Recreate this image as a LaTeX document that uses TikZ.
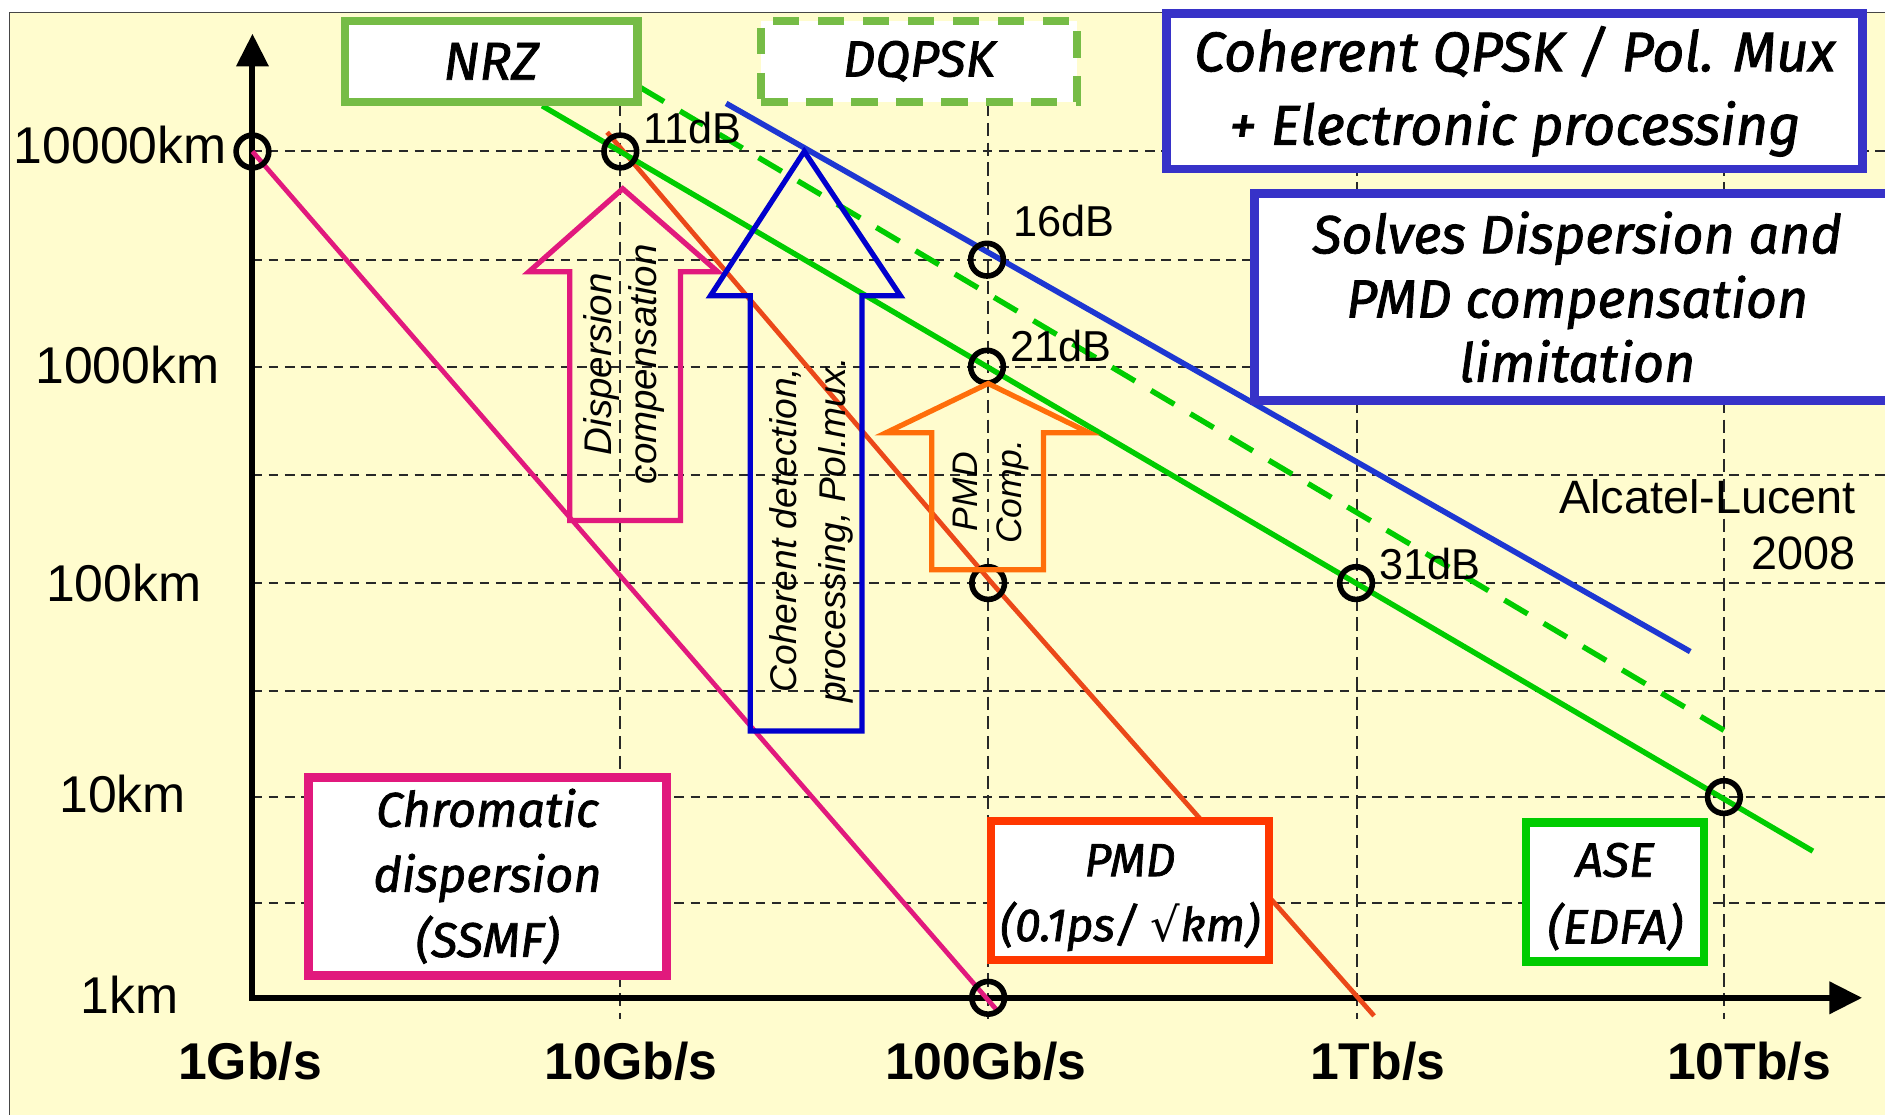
\documentclass[tikz,border=0pt]{standalone}
\usepackage{fontspec}
\setmainfont{Liberation Sans}
\newfontfamily\boxfont{Fira Sans}[FakeBold=1.5]
\newfontfamily\symfont{DejaVu Sans}
\usetikzlibrary{arrows.meta}

\definecolor{paper}{RGB}{255,252,206}
\definecolor{framec}{RGB}{70,70,70}
\definecolor{gridc}{RGB}{40,40,40}
\definecolor{cdmag}{RGB}{225,25,125}
\definecolor{pmdred}{RGB}{235,72,25}
\definecolor{pmdbox}{RGB}{255,55,0}
\definecolor{pmdorange}{RGB}{255,110,10}
\definecolor{asegreen}{RGB}{0,204,0}
\definecolor{modgreen}{RGB}{118,188,70}
\definecolor{cohblue}{RGB}{30,55,210}
\definecolor{arrowblue}{RGB}{0,0,205}
\definecolor{boxblue}{RGB}{55,50,200}

\begin{document}
\begin{tikzpicture}[x=0.025cm, y=-0.025cm,
  hgrid/.style={line width=1.2pt, color=gridc, dash pattern=on 5.7pt off 3.9pt},
  vgrid/.style={line width=1.2pt, color=gridc, dash pattern=on 7.8pt off 3.9pt},
  axisline/.style={line width=3.5pt, line join=miter,
    {Triangle[length=0.68cm, width=0.65cm]}-{Triangle[length=0.68cm, width=0.65cm]}},
  datapt/.style={circle, draw=black, line width=3.3pt, minimum size=0.68cm, inner sep=0pt},
  cdline/.style={cdmag, line width=2.8pt},
  pmdline/.style={pmdred, line width=2.8pt},
  aseline/.style={asegreen, line width=3.2pt},
  dqline/.style={asegreen, line width=3.2pt, dash pattern=on 16pt off 11pt},
  cohline/.style={cohblue, line width=3.3pt},
  blockarrow/.style={line width=3.1pt, line join=miter},
  axlbl/.style={font=\fontsize{30.6}{36}\selectfont, inner sep=0pt, anchor=base},
  ratelbl/.style={font=\bfseries\fontsize{30.6}{36}\selectfont, inner sep=0pt, anchor=base},
  dblbl/.style={font=\fontsize{25.6}{30}\selectfont, inner sep=0pt, anchor=base west},
  notelbl/.style={font=\fontsize{27.7}{34}\selectfont, inner sep=0pt, anchor=base east},
  arrowtxt/.style={align=center, inner sep=0pt, rotate=90},
  infobox/.style={draw, fill=white, align=center, inner sep=0pt, line width=4.8pt},
]
% page and panel
\fill[white] (0,0) rectangle (1568,927);
\useasboundingbox (0,0) rectangle (1568,927);
\clip (0,0) rectangle (1568,927);
\fill[paper] (8,10.5) rectangle (1590,940);
\draw[line width=0.9pt, framec] (8,940) -- (8,10.5) -- (1590,10.5);

% dashed grid
\foreach \yy in {126,216,305,395,485,575,663,751}
  \draw[hgrid] (210,\yy) -- (1568,\yy);
\foreach \xx in {516,822,1129,1434}
  \draw[vgrid] (\xx,20) -- (\xx,848);

% axes
\coordinate (origin) at (210,830);
\coordinate (ytip) at (210,28);
\coordinate (xtip) at (1549,830);
\draw[axisline] (ytip) -- (origin) -- (xtip);

% axis labels
\node[axlbl] (l10000) at (100,136) {10000km};
\node[axlbl] (l1000) at (106,319) {1000km};
\node[axlbl] (l100) at (103,500) {100km};
\node[axlbl] (l10) at (102,676) {10km};
\node[axlbl] (l1) at (108,843) {1km};
\node[ratelbl] (r1g) at (208,898) {1Gb/s};
\node[ratelbl] (r10g) at (525,898) {10Gb/s};
\node[ratelbl] (r100g) at (820,898) {100Gb/s};
\node[ratelbl] (r1t) at (1146,898) {1Tb/s};
\node[ratelbl] (r10t) at (1455,898) {10Tb/s};

% limit lines
\coordinate (cd0) at (210,126);   \coordinate (cd1) at (829,840);
\coordinate (pmd0) at (505,110);  \coordinate (pmdk) at (826,486); \coordinate (pmd1) at (1143,845);
\coordinate (ase0) at (451,88);   \coordinate (ase1) at (1508,708);
\coordinate (dq0) at (533,73);    \coordinate (dq1) at (1445,614);
\coordinate (coh0) at (604,86);   \coordinate (coh1) at (1406,542);
\draw[cdline] (cd0) -- (cd1);
\draw[pmdline] (pmd0) -- (pmdk) -- (pmd1);
\draw[aseline] (ase0) -- (ase1);
\draw[dqline] (dq0) -- (dq1);
\draw[cohline] (coh0) -- (coh1);

% operating points
\node[datapt] (c10k) at (210,126) {};
\node[datapt] (c11) at (516,126) {};
\node[datapt] (c16) at (821,216) {};
\node[datapt] (c21) at (821,305) {};
\node[datapt] (c100) at (822,485) {};
\node[datapt] (c31) at (1128,485) {};
\node[datapt] (c10t) at (1434,663) {};
\node[datapt] (c1k) at (822,830) {};

\node[dblbl] (db11) at (535,119) {11dB};
\node[dblbl] (db16) at (843,197) {16dB};
\node[dblbl] (db21) at (840,301) {21dB};
\node[dblbl] (db31) at (1147,482) {31dB};

% compensation arrows
\draw[cdmag, blockarrow] (518,157) -- (597,226) -- (566,226) -- (566,433) -- (474,433) -- (474,226) -- (440,226) -- cycle;
\draw[arrowblue, blockarrow] (669,126) -- (749,246) -- (717,246) -- (717,608) -- (624,608) -- (624,246) -- (591,246) -- cycle;
\draw[pmdorange, blockarrow] (822,319) -- (906,360) -- (868,360) -- (868,474) -- (775,474) -- (775,360) -- (737,360) -- cycle;

\node[arrowtxt, font=\itshape\fontsize{22.8}{26.3}\selectfont] (dctxt) at (519,303) {Dispersion\\compensation};
\node[arrowtxt, font=\itshape\fontsize{22}{29.2}\selectfont] (cohtxt) at (675,441) {Coherent detection,\\processing, Pol.mux.};
\node[arrowtxt, font=\itshape\fontsize{21}{26}\selectfont] (pmdtxt) at (824,409) {PMD\\Comp.};

% boxes
\node[infobox, draw=modgreen, minimum width=6.09cm, minimum height=1.69cm,
  font=\boxfont\itshape\fontsize{31.5}{36}\selectfont] (nrz) at (408.5,51) {NRZ};
\node[infobox, draw=modgreen, dash pattern=on 15.6pt off 11pt, minimum width=6.56cm, minimum height=1.69cm,
  font=\boxfont\itshape\fontsize{30}{36}\selectfont] (dqpsk) at (764.5,51) {DQPSK};
\node[infobox, draw=boxblue, line width=5.2pt, minimum width=14.475cm, minimum height=3.225cm,
  font=\boxfont\itshape\fontsize{33}{43.4}\selectfont] (coh) at (1260,76) {Coherent QPSK / Pol. Mux\\+ Electronic processing};
\node[infobox, draw=boxblue, line width=5.4pt, minimum width=13.41cm, minimum height=4.31cm,
  font=\boxfont\itshape\fontsize{31.8}{38}\selectfont] (solves) at (1312,247) {Solves Dispersion and\\PMD compensation\\limitation};
\node[infobox, draw=cdmag, line width=5.4pt, minimum width=7.44cm, minimum height=4.11cm,
  font=\boxfont\itshape\fontsize{28.8}{38.5}\selectfont] (cdbox) at (405.5,729) {Chromatic\\dispersion\\(SSMF)};
\node[infobox, draw=pmdbox, minimum width=5.79cm, minimum height=2.89cm,
  font=\boxfont\itshape\fontsize{27.5}{38.4}\selectfont] (pmdbx) at (940,741) {\rule{0pt}{27pt}PMD\\(0.1ps/ {\symfont\upshape √}km)};
\node[infobox, draw=asegreen, minimum width=3.71cm, minimum height=2.89cm,
  font=\boxfont\itshape\fontsize{28.5}{39.5}\selectfont] (asebox) at (1343.5,742) {\rule{0pt}{25.5pt}ASE\\(EDFA)};

% source note
\node[notelbl] (src1) at (1544,427) {Alcatel-Lucent};
\node[notelbl] (src2) at (1544,474) {2008};
\end{tikzpicture}
\end{document}
